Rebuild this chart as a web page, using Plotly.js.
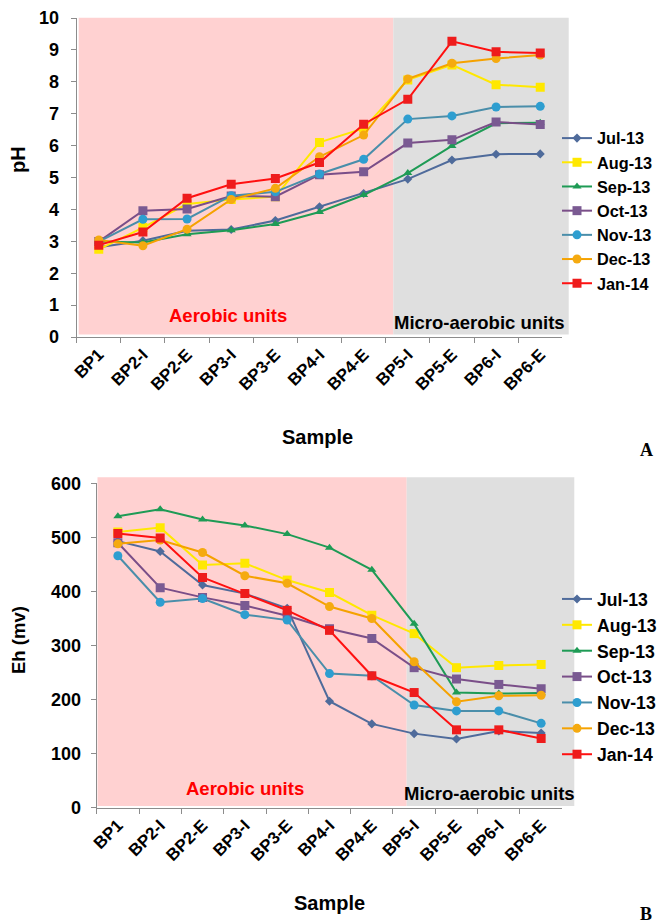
<!DOCTYPE html>
<html>
<head>
<meta charset="utf-8">
<script src="https://cdn.plot.ly/plotly-3.0.1.min.js"></script>
<style>html,body{margin:0;padding:0;background:#fff;}#chart{width:657px;height:924px;}</style>
</head>
<body>
<div id="chart"></div>
<script>
const samples = ['BP1','BP2-I','BP2-E','BP3-I','BP3-E','BP4-I','BP4-E','BP5-I','BP5-E','BP6-I','BP6-E'];
const months = ['Jul-13','Aug-13','Sep-13','Oct-13','Nov-13','Dec-13','Jan-14'];

// Panel A: pH
const phJul = [2.81, 3.02, 3.33, 3.37, 3.65, 4.08, 4.50, 4.95, 5.55, 5.73, 5.74];
const phAug = [2.75, 3.43, 4.17, 4.31, 4.40, 6.10, 6.54, 8.06, 8.53, 7.91, 7.83];
const phSep = [2.99, 2.96, 3.22, 3.35, 3.54, 3.92, 4.45, 5.14, 5.99, 6.70, 6.72];
const phOct = [2.99, 3.96, 4.01, 4.42, 4.40, 5.09, 5.18, 6.08, 6.18, 6.74, 6.66];
const phNov = [2.99, 3.69, 3.70, 4.43, 4.55, 5.11, 5.57, 6.83, 6.93, 7.21, 7.23];
const phDec = [3.04, 2.86, 3.38, 4.31, 4.66, 5.65, 6.33, 8.09, 8.58, 8.73, 8.84];
const phJan = [2.88, 3.29, 4.35, 4.79, 4.97, 5.47, 6.67, 7.45, 9.27, 8.94, 8.90];

// Panel B: Eh (mV)
const ehJul = [493, 474, 412, 396, 369, 197, 155, 137, 127, 142, 138];
const ehAug = [510, 518, 449, 452, 421, 398, 356, 322, 259, 263, 265];
const ehSep = [539, 552, 533, 522, 506, 481, 440, 340, 213, 211, 212];
const ehOct = [490, 407, 389, 374, 355, 331, 313, 259, 238, 228, 220];
const ehNov = [466, 380, 387, 357, 347, 248, 244, 190, 179, 179, 156];
const ehDec = [488, 495, 472, 429, 415, 372, 350, 270, 196, 207, 208];
const ehJan = [507, 499, 426, 396, 365, 328, 244, 213, 144, 144, 128];

const phSeries = [phJul, phAug, phSep, phOct, phNov, phDec, phJan];
const ehSeries = [ehJul, ehAug, ehSep, ehOct, ehNov, ehDec, ehJan];

const lineColors   = ['#4F6B9B', '#FFE800', '#1E9B55', '#7A4E88', '#4A8EAA', '#F5A200', '#FF1010'];
const markerColors = ['#4F6B9B', '#FFE800', '#1E9B55', '#7A5A92', '#2E9ED0', '#F5AA10', '#EE1C1C'];
const symbols = ['diamond', 'square', 'triangle-up', 'square', 'circle', 'circle', 'square'];
const sizes = [7, 9, 8, 9, 9, 9, 9];

const FONT = 'Liberation Sans, Arial, sans-serif';
const W = 657, H = 924;
const px = v => v / W;
const py = v => (H - v) / H;

const traces = [];
months.forEach((m, i) => {
  traces.push({
    type: 'scatter', mode: 'lines+markers', name: m,
    x: samples, y: phSeries[i], xaxis: 'x', yaxis: 'y',
    line: {color: lineColors[i], width: 2},
    marker: {symbol: symbols[i], size: sizes[i], color: markerColors[i]},
    legend: 'legend', hoverinfo: 'skip'
  });
});
months.forEach((m, i) => {
  traces.push({
    type: 'scatter', mode: 'lines+markers', name: m,
    x: samples, y: ehSeries[i], xaxis: 'x2', yaxis: 'y2',
    line: {color: lineColors[i], width: 2},
    marker: {symbol: symbols[i], size: sizes[i], color: markerColors[i]},
    legend: 'legend2', hoverinfo: 'skip'
  });
});

const tickFont = {family: FONT, size: 17, color: '#000', weight: 'bold'};
const yTickFont = {family: FONT, size: 18, color: '#000', weight: 'bold'};
const axisCommon = {
  showline: true, linecolor: '#8C8C8C', linewidth: 1,
  ticks: 'outside', tickcolor: '#8C8C8C', ticklen: 5, tickwidth: 1,
  showgrid: false, zeroline: false, fixedrange: true
};

function ann(text, x, y, font, extra) {
  return Object.assign({text: text, xref: 'paper', yref: 'paper', x: px(x), y: py(y),
    xanchor: 'center', yanchor: 'middle', showarrow: false, font: font}, extra || {});
}

const layout = {
  width: W, height: H,
  margin: {l: 0, r: 0, t: 0, b: 0, autoexpand: false},
  paper_bgcolor: '#ffffff', plot_bgcolor: 'rgba(0,0,0,0)',
  showlegend: true,
  xaxis: Object.assign({}, axisCommon, {
    domain: [px(76.7), px(562.3)], anchor: 'y', type: 'category',
    range: [-0.5, 10.5], tickson: 'boundaries', tickangle: -45,
    tickfont: tickFont, automargin: false
  }),
  yaxis: Object.assign({}, axisCommon, {
    domain: [py(337), py(18)], anchor: 'x', range: [0, 10], dtick: 1,
    tickfont: yTickFont, ticklabelstandoff: 8, automargin: false
  }),
  xaxis2: Object.assign({}, axisCommon, {
    domain: [px(96.7), px(562.3)], anchor: 'y2', type: 'category',
    range: [-0.5, 10.5], tickson: 'boundaries', tickangle: -45,
    tickfont: tickFont, automargin: false
  }),
  yaxis2: Object.assign({}, axisCommon, {
    domain: [py(807.7), py(483.3)], anchor: 'x2', range: [0, 600], dtick: 100,
    tickfont: yTickFont, ticklabelstandoff: 6, automargin: false
  }),
  legend: {
    x: px(557), xanchor: 'left', y: py(121), yanchor: 'top',
    bgcolor: 'rgba(0,0,0,0)', borderwidth: 0,
    font: {family: FONT, size: 16.3, color: '#000', weight: 'bold'},
    tracegroupgap: 0
  },
  legend2: {
    x: px(557), xanchor: 'left', y: py(581), yanchor: 'top',
    bgcolor: 'rgba(0,0,0,0)', borderwidth: 0,
    font: {family: FONT, size: 17.6, color: '#000', weight: 'bold'},
    tracegroupgap: 0
  },
  shapes: [
    {type: 'rect', xref: 'paper', yref: 'paper', x0: px(78.7), x1: px(393.3), y0: py(334.5), y1: py(17.7),
     fillcolor: '#FFD1D1', line: {width: 0}, layer: 'below'},
    {type: 'rect', xref: 'paper', yref: 'paper', x0: px(393.3), x1: px(568.7), y0: py(334.5), y1: py(17.7),
     fillcolor: '#DFDFDF', line: {width: 0}, layer: 'below'},
    {type: 'rect', xref: 'paper', yref: 'paper', x0: px(97.5), x1: px(406.7), y0: py(806), y1: py(477.3),
     fillcolor: '#FFD1D1', line: {width: 0}, layer: 'below'},
    {type: 'rect', xref: 'paper', yref: 'paper', x0: px(406.7), x1: px(574.3), y0: py(806), y1: py(477.3),
     fillcolor: '#DFDFDF', line: {width: 0}, layer: 'below'}
  ],
  annotations: [
    ann('Aerobic units', 228, 316, {family: FONT, size: 18.5, color: '#FF0000', weight: 'bold'}),
    ann('Micro-aerobic units', 479, 322, {family: FONT, size: 18.5, color: '#000', weight: 'bold'}),
    ann('Aerobic units', 245, 788, {family: FONT, size: 18.5, color: '#FF0000', weight: 'bold'}),
    ann('Micro-aerobic units', 489.5, 793, {family: FONT, size: 18.5, color: '#000', weight: 'bold'}),
    ann('pH', 18, 160, {family: FONT, size: 20, color: '#000', weight: 'bold'}, {textangle: -90}),
    ann('Eh (mv)', 18, 640, {family: FONT, size: 18.5, color: '#000', weight: 'bold'}, {textangle: -90}),
    ann('Sample', 317, 437, {family: FONT, size: 20, color: '#000', weight: 'bold'}),
    ann('Sample', 329, 903, {family: FONT, size: 20, color: '#000', weight: 'bold'}),
    ann('A', 646, 450, {family: 'Liberation Serif, Times New Roman, serif', size: 18, color: '#000', weight: 'bold'}),
    ann('B', 646, 914, {family: 'Liberation Serif, Times New Roman, serif', size: 18, color: '#000', weight: 'bold'})
  ]
};

Plotly.newPlot('chart', traces, layout, {staticPlot: true, displayModeBar: false});
</script>
</body>
</html>
